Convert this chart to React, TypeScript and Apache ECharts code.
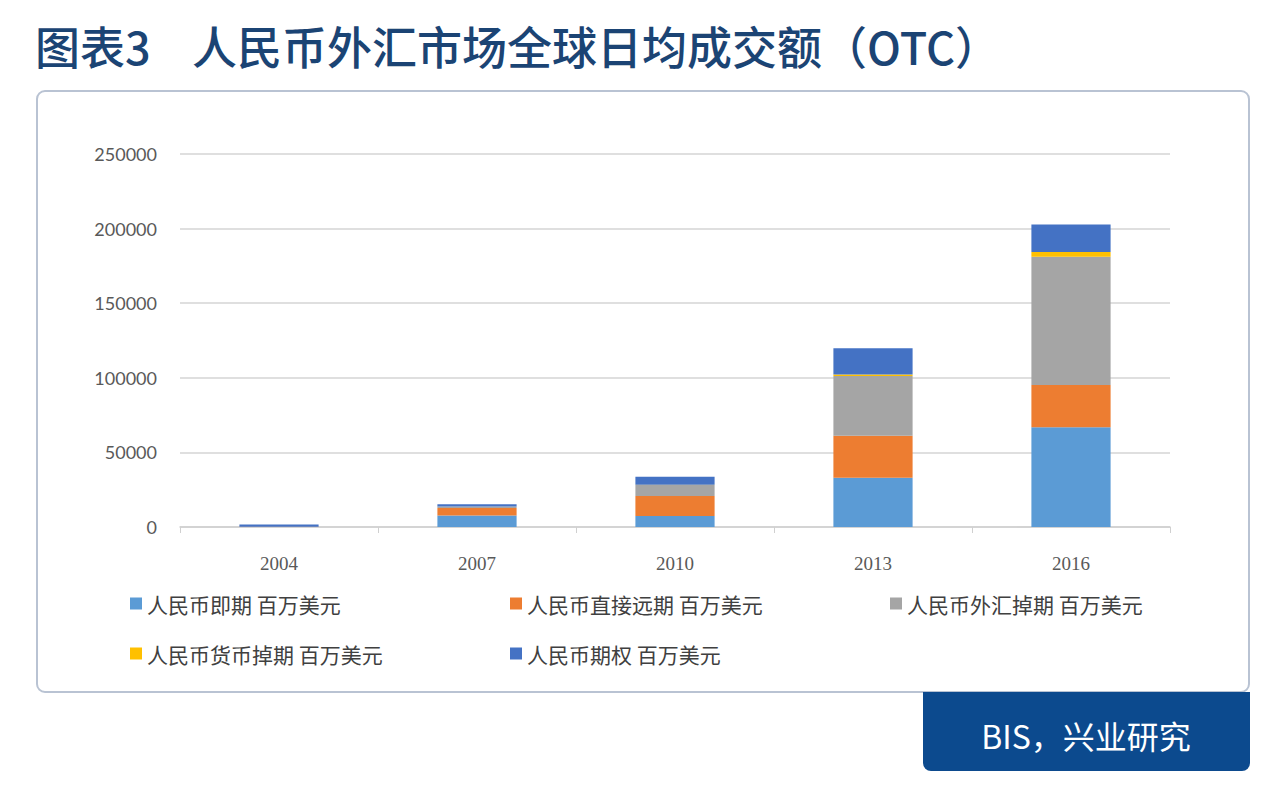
import React, { useEffect, useRef } from "react";
import * as echarts from "echarts";

const years = ["2004", "2007", "2010", "2013", "2016"];
const spot = [0, 7700, 7400, 33000, 66800];
const outrightForward = [200, 5000, 13400, 28200, 28300];
const fxSwap = [0, 1000, 7300, 40000, 86000];
const currencySwap = [0, 0, 300, 1000, 3300];
const options = [1400, 1500, 5300, 17600, 18400];

const seriesNames = [
  "人民币即期 百万美元",
  "人民币直接远期 百万美元",
  "人民币外汇掉期 百万美元",
  "人民币货币掉期 百万美元",
  "人民币期权 百万美元",
];
const seriesColors = ["#5b9bd5", "#ed7d31", "#a5a5a5", "#ffc000", "#4472c4"];
const seriesData = [spot, outrightForward, fxSwap, currencySwap, options];

const legendLefts = [125, 505, 885, 125, 505];
const legendTops = [588, 588, 588, 638, 638];

export default function App() {
  const ref = useRef<HTMLDivElement>(null);
  useEffect(() => {
    document.body.style.margin = "0";
    const chart = echarts.init(ref.current!, null, { renderer: "svg" });
    chart.setOption({
      animation: false,
      backgroundColor: "#ffffff",
      grid: { left: 180, right: 110, top: 154, bottom: 262 },
      xAxis: {
        type: "category",
        data: years,
        axisLine: { lineStyle: { color: "#d0d0d0", width: 1.5 } },
        axisTick: { show: true, length: 6, lineStyle: { color: "#d0d0d0" } },
        axisLabel: {
          margin: 27,
          fontFamily: "Liberation Serif",
          fontSize: 19,
          color: "#595959",
        },
      },
      yAxis: {
        type: "value",
        min: 0,
        max: 250000,
        interval: 50000,
        axisLine: { show: false },
        axisTick: { show: false },
        splitLine: { lineStyle: { color: "#d5d5d5", width: 1.5 } },
        axisLabel: {
          margin: 23,
          fontFamily: "Lato",
          fontSize: 18,
          color: "#595959",
          formatter: (v: number) => String(v),
        },
      },
      legend: seriesNames.map((name, i) => ({
        left: legendLefts[i],
        top: legendTops[i],
        itemWidth: 12,
        itemHeight: 12,
        itemGap: 6,
        icon: "rect",
        data: [name],
        textStyle: {
          fontFamily: "Noto Sans CJK SC",
          fontSize: 21,
          color: "#404040",
        },
      })),
      series: seriesNames.map((name, i) => ({
        name,
        type: "bar",
        stack: "total",
        barWidth: "40%",
        data: seriesData[i],
        itemStyle: { color: seriesColors[i] },
      })),
      graphic: [
        {
          type: "rect",
          z: -10,
          shape: { x: 37, y: 91, width: 1212, height: 601, r: 8 },
          style: { fill: "#ffffff", stroke: "#b9c3d3", lineWidth: 2 },
          silent: true,
        },
        {
          type: "text",
          x: 35,
          y: 45,
          style: {
            text: "图表3",
            fontFamily: "Noto Sans CJK SC",
            fontSize: 45,
            fontWeight: 500,
            fill: "#1b4474",
            verticalAlign: "middle",
          },
        },
        {
          type: "text",
          x: 192,
          y: 45,
          style: {
            text: "人民币外汇市场全球日均成交额（OTC）",
            fontFamily: "Noto Sans CJK SC",
            fontSize: 45,
            fontWeight: 500,
            fill: "#1b4474",
            verticalAlign: "middle",
          },
        },
        {
          type: "rect",
          shape: { x: 923, y: 692, width: 327, height: 79, r: [0, 0, 8, 8] },
          style: { fill: "#0c4a8e" },
          silent: true,
        },
        {
          type: "text",
          x: 1086,
          y: 735,
          style: {
            text: "BIS，兴业研究",
            fontFamily: "Noto Sans CJK SC",
            fontSize: 32,
            fill: "#ffffff",
            align: "center",
            verticalAlign: "middle",
          },
        },
      ],
    });
    return () => chart.dispose();
  }, []);
  return (
    <div
      ref={ref}
      style={{ position: "absolute", left: 0, top: 0, width: 1280, height: 789 }}
    />
  );
}
